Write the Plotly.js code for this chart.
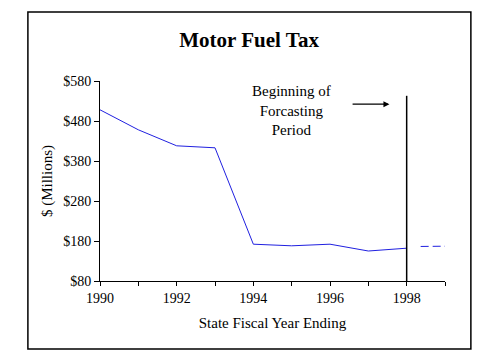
<!DOCTYPE html>
<html>
<head>
<meta charset="utf-8">
<script src="https://cdn.plot.ly/plotly-3.0.1.min.js"></script>
<style>html,body{margin:0;padding:0;background:#fff;}#chart{width:479px;height:359px;}</style>
</head>
<body>
<div id="chart"></div>
<script>
const years = [1990, 1991, 1992, 1993, 1994, 1995, 1996, 1997, 1998];
const revenue = [508, 458, 418, 413, 172, 168, 172, 155, 162];
const forecastYears = [1998, 1999];
const forecastRevenue = [166, 167];
const yTicks = [80, 180, 280, 380, 480, 580];
const yTickText = ['$80', '$180', '$280', '$380', '$480', '$580'];
const xTicks = [1990, 1992, 1994, 1996, 1998];
const markerYear = 1998;
const markerTop = 543;
const noteText = 'Beginning of<br>Forcasting<br>Period';

const fam = '"Liberation Serif", "Times New Roman", serif';
const font = {family: fam, color: '#000', size: 14};

const traces = [
  {x: years, y: revenue, type: 'scatter', mode: 'lines',
   line: {color: '#2020e0', width: 1}, hoverinfo: 'skip'},
  {x: forecastYears, y: forecastRevenue, type: 'scatter', mode: 'lines',
   line: {color: '#2020e0', width: 1, dash: '0px,14px,8px,4px,8px,4px,8px,4px'}, hoverinfo: 'skip'}
];

const layout = {
  width: 479, height: 359,
  margin: {l: 100, r: 34, t: 81, b: 78},
  paper_bgcolor: '#fff', plot_bgcolor: '#fff',
  showlegend: false,
  font: font,
  title: {text: '<b>Motor Fuel Tax</b>', font: {family: fam, size: 21, color: '#000'},
          xref: 'container', x: 0.52, xanchor: 'center', yref: 'container', y: 0.889, yanchor: 'middle'},
  xaxis: {
    range: [1990, 1999], tickvals: xTicks, ticktext: xTicks.map(String),
    ticks: 'outside', ticklen: 4, tickcolor: '#000', showgrid: false, zeroline: false,
    showline: true, linecolor: '#000', linewidth: 1,
    minor: {dtick: 1, tick0: 1990, ticks: 'outside', ticklen: 4, tickcolor: '#000', showgrid: false},
    tickfont: font,
    title: {text: 'State Fiscal Year Ending', font: {family: fam, size: 15, color: '#000'}, standoff: 12}
  },
  yaxis: {
    range: [80, 580], tickvals: yTicks, ticktext: yTickText,
    ticks: 'outside', ticklen: 5, tickcolor: '#000', showgrid: false, zeroline: false,
    showline: true, linecolor: '#000', linewidth: 1,
    tickfont: font,
    title: {text: '$ (Millions)', font: {family: fam, size: 15, color: '#000'}, standoff: 6}
  },
  shapes: [
    {type: 'line', xref: 'x', yref: 'y', x0: markerYear, x1: markerYear, y0: 80, y1: markerTop,
     line: {color: '#000', width: 1.5}},
    {type: 'rect', xref: 'paper', yref: 'paper', x0: -0.209, x1: 1.075, y0: -0.34, y1: 1.345,
     line: {color: '#000', width: 1.5}, fillcolor: 'rgba(0,0,0,0)'}
  ],
  annotations: [
    {x: 1995.0, y: 507, xref: 'x', yref: 'y', text: noteText, showarrow: false,
     font: {family: fam, size: 15, color: '#000'}, align: 'center', xanchor: 'center', yanchor: 'middle'},
    {x: 1997.55, y: 522, ax: 1996.55, ay: 522, axref: 'x', ayref: 'y', xref: 'x', yref: 'y',
     text: '', showarrow: true, arrowhead: 2, arrowsize: 1, arrowwidth: 1.2, arrowcolor: '#000'}
  ]
};

Plotly.newPlot('chart', traces, layout, {staticPlot: true, displayModeBar: false});
</script>
</body>
</html>
